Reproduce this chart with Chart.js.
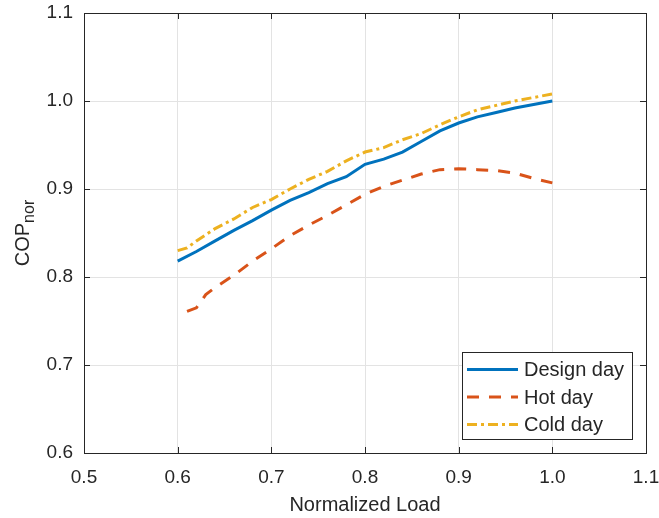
<!DOCTYPE html>
<html>
<head>
<meta charset="utf-8">
<title>COP vs normalized load</title>
<script src="https://cdn.jsdelivr.net/npm/chart.js@4.4.1/dist/chart.umd.min.js"></script>
<style>
    html, body { margin: 0; padding: 0; background: #ffffff; }
    #wrap { width: 659px; height: 518px; }
</style>
</head>
<body>
<div id="wrap"><canvas id="copChart" width="659" height="518"></canvas></div>
<script>
// Данные
const designLoad = [0.60, 0.62, 0.64, 0.66, 0.68, 0.70, 0.72, 0.74, 0.76, 0.78, 0.80,
                    0.82, 0.84, 0.86, 0.88, 0.90, 0.92, 0.94, 0.96, 0.98, 1.00];
const designCop = [0.818, 0.829, 0.841, 0.853, 0.864, 0.876, 0.887, 0.896, 0.906, 0.914, 0.928,
                   0.934, 0.942, 0.954, 0.966, 0.975, 0.982, 0.987, 0.992, 0.996, 1.000];

const hotLoad = [0.61, 0.62, 0.63, 0.64, 0.66, 0.68, 0.70, 0.72, 0.74, 0.76, 0.78, 0.80,
                 0.82, 0.84, 0.86, 0.88, 0.90, 0.92, 0.94, 0.96, 0.98, 1.00];
const hotCop = [0.761, 0.765, 0.780, 0.788, 0.802, 0.818, 0.832, 0.847, 0.859, 0.870, 0.882, 0.894,
                0.903, 0.910, 0.917, 0.922, 0.923, 0.922, 0.921, 0.918, 0.912, 0.907];

const coldLoad = [0.60, 0.61, 0.62, 0.64, 0.66, 0.68, 0.70, 0.72, 0.74, 0.76, 0.78, 0.80,
                  0.82, 0.84, 0.86, 0.88, 0.90, 0.92, 0.94, 0.96, 0.98, 1.00];
const coldCop = [0.830, 0.833, 0.841, 0.855, 0.866, 0.879, 0.888, 0.900, 0.911, 0.920, 0.932, 0.942,
                 0.947, 0.956, 0.963, 0.973, 0.982, 0.990, 0.995, 1.000, 1.004, 1.008];

const seriesNames = ['Design day', 'Hot day', 'Cold day'];
const xTickLabels = ['0.5', '0.6', '0.7', '0.8', '0.9', '1.0', '1.1'];
const yTickLabels = ['0.6', '0.7', '0.8', '0.9', '1.0', '1.1'];

const FONT = "'Liberation Sans', Arial, Helvetica, sans-serif";
const AXIS_COLOR = '#262626';

function toPoints(xs, ys) {
    return xs.map((x, i) => ({ x: x, y: ys[i] }));
}

// Рамка, внутренние засечки, подпись оси Y с индексом и легенда внутри
const matlabLook = {
    id: 'matlabLook',
    afterDraw(chart) {
        const ctx = chart.ctx;
        const a = chart.chartArea;
        const xs = chart.scales.x;
        const ys = chart.scales.y;
        ctx.save();

        // засечки внутрь со всех сторон
        ctx.strokeStyle = AXIS_COLOR;
        ctx.lineWidth = 1;
        ctx.beginPath();
        xs.ticks.forEach(t => {
            const px = Math.round(xs.getPixelForValue(t.value)) + 0.5;
            ctx.moveTo(px, a.bottom); ctx.lineTo(px, a.bottom - 6);
            ctx.moveTo(px, a.top); ctx.lineTo(px, a.top + 6);
        });
        ys.ticks.forEach(t => {
            const py = Math.round(ys.getPixelForValue(t.value)) + 0.5;
            ctx.moveTo(a.left, py); ctx.lineTo(a.left + 6, py);
            ctx.moveTo(a.right, py); ctx.lineTo(a.right - 6, py);
        });
        ctx.stroke();

        // рамка
        ctx.strokeRect(Math.round(a.left) + 0.5, Math.round(a.top) + 0.5,
                       Math.round(a.right - a.left), Math.round(a.bottom - a.top));

        // подпись оси Y: COP с нижним индексом nor
        ctx.translate(29, (a.top + a.bottom) / 2);
        ctx.rotate(-Math.PI / 2);
        ctx.fillStyle = AXIS_COLOR;
        ctx.textBaseline = 'alphabetic';
        ctx.font = '20px ' + FONT;
        const mainW = ctx.measureText('COP').width;
        ctx.font = '16px ' + FONT;
        const subW = ctx.measureText('nor').width;
        const start = -(mainW + subW) / 2;
        ctx.font = '20px ' + FONT;
        ctx.textAlign = 'left';
        ctx.fillText('COP', start, 0);
        ctx.font = '16px ' + FONT;
        ctx.fillText('nor', start + mainW, 5);
        ctx.restore();

        // легенда
        ctx.save();
        const box = { left: 462, top: 352, width: 170, height: 87 };
        ctx.fillStyle = '#ffffff';
        ctx.fillRect(box.left, box.top, box.width, box.height);
        ctx.strokeStyle = AXIS_COLOR;
        ctx.lineWidth = 1;
        ctx.strokeRect(box.left + 0.5, box.top + 0.5, box.width, box.height);
        ctx.font = '20px ' + FONT;
        ctx.textBaseline = 'middle';
        ctx.textAlign = 'left';
        chart.data.datasets.forEach((ds, i) => {
            const cy = box.top + 17.5 + i * 27.5;
            ctx.strokeStyle = ds.borderColor;
            ctx.lineWidth = ds.borderWidth;
            ctx.setLineDash(ds.borderDash || []);
            ctx.beginPath();
            ctx.moveTo(box.left + 5, cy);
            ctx.lineTo(box.left + 56, cy);
            ctx.stroke();
            ctx.setLineDash([]);
            ctx.fillStyle = AXIS_COLOR;
            ctx.fillText(ds.label, box.left + 62, cy + 1);
        });
        ctx.restore();
    }
};

const copCtx = document.getElementById('copChart').getContext('2d');
const copChart = new Chart(copCtx, {
    type: 'line',
    data: {
        datasets: [{
            label: seriesNames[0],
            data: toPoints(designLoad, designCop),
            borderColor: '#0072BD',
            borderWidth: 3,
            pointRadius: 0,
            tension: 0,
            fill: false
        }, {
            label: seriesNames[1],
            data: toPoints(hotLoad, hotCop),
            borderColor: '#D95319',
            borderWidth: 3,
            borderDash: [12, 10],
            pointRadius: 0,
            tension: 0,
            fill: false
        }, {
            label: seriesNames[2],
            data: toPoints(coldLoad, coldCop),
            borderColor: '#EDB120',
            borderWidth: 3,
            borderDash: [10, 4, 3, 4],
            pointRadius: 0,
            tension: 0,
            fill: false
        }]
    },
    options: {
        responsive: false,
        animation: false,
        devicePixelRatio: 1,
        layout: { padding: { top: 13, right: 13, left: 0, bottom: 0 } },
        plugins: {
            legend: { display: false },
            tooltip: { enabled: false }
        },
        scales: {
            x: {
                type: 'linear',
                min: 0.5,
                max: 1.1,
                afterFit: scale => {
                    scale.height = 65;
                    scale.paddingLeft = 0;
                    scale.paddingRight = 0;
                },
                grid: { color: '#e3e3e3', drawTicks: false },
                border: { display: false },
                ticks: {
                    stepSize: 0.1,
                    padding: 13,
                    color: AXIS_COLOR,
                    font: { family: FONT, size: 19 },
                    maxRotation: 0,
                    callback: (v, i) => xTickLabels[i]
                },
                title: {
                    display: true,
                    text: 'Normalized Load',
                    color: AXIS_COLOR,
                    font: { family: FONT, size: 20 },
                    padding: { top: 0, bottom: 1 }
                }
            },
            y: {
                type: 'linear',
                min: 0.6,
                max: 1.1,
                afterFit: scale => {
                    scale.width = 84;
                    scale.paddingTop = 0;
                    scale.paddingBottom = 0;
                },
                grid: { color: '#e3e3e3', drawTicks: false },
                border: { display: false },
                ticks: {
                    stepSize: 0.1,
                    padding: 11,
                    color: AXIS_COLOR,
                    font: { family: FONT, size: 19 },
                    callback: (v, i) => yTickLabels[i]
                }
            }
        }
    },
    plugins: [matlabLook]
});
</script>
</body>
</html>
